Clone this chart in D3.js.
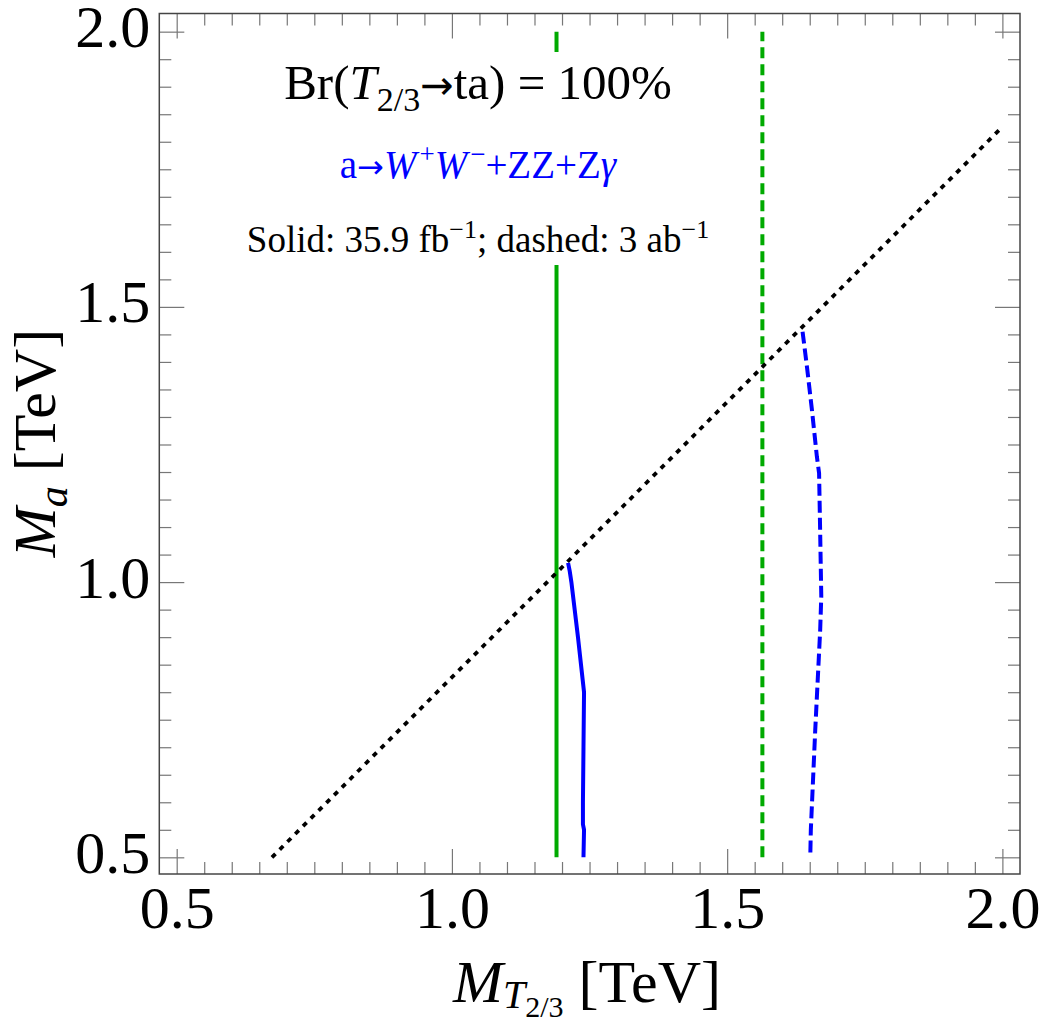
<!DOCTYPE html>
<html>
<head>
<meta charset="utf-8">
<script src="https://cdn.jsdelivr.net/npm/d3@7"></script>
<style>
  body { margin: 0; background: #fff; }
  text { font-family: "Liberation Serif", "DejaVu Serif", serif; }
  .arr { font-family: "DejaVu Sans", sans-serif; }
</style>
</head>
<body>
<svg id="chart" width="1042" height="1025"></svg>
<script>
// axis ticks
const majorTicks = [0.5, 1.0, 1.5, 2.0];
const tickLabels = ["0.5", "1.0", "1.5", "2.0"];

// green: vertical limits (solid 35.9 fb^-1, dashed 3 ab^-1)
const greenSolidX = [1.19, 1.19];
const greenSolidY = [0.5, 2.0];
const greenDashX = [1.564, 1.564];
const greenDashY = [0.5, 2.0];

// blue: a -> WW+ZZ+Zgamma
const blueSolidX = [1.211, 1.214, 1.217, 1.229, 1.240, 1.239, 1.238, 1.238, 1.240, 1.239];
const blueSolidY = [1.035, 1.02, 1.0, 0.9, 0.8, 0.7, 0.6, 0.56, 0.55, 0.5];
const blueDashX = [1.637, 1.645, 1.654, 1.663, 1.667, 1.669, 1.671, 1.669, 1.660, 1.652, 1.651];
const blueDashY = [1.455, 1.391, 1.313, 1.228, 1.198, 1.089, 0.974, 0.913, 0.731, 0.55, 0.5];

// kinematic line M_a = M_T - m_t
const mtX = [0.673, 2.0];
const mtY = [0.5, 1.827];

const svg = d3.select("#chart");
const fLeft = 159.3, fRight = 1020, fTop = 13.5, fBottom = 874;

let x = d3.scaleLinear().domain([0.4684, 2.032]).range([fLeft, fRight]);
let y = d3.scaleLinear().domain([0.4697, 2.033]).range([fBottom, fTop]);

let minorTicks = d3.range(0, 31).map(i => +(0.5 + i * 0.05).toFixed(2)).filter(v => majorTicks.indexOf(v) < 0);

svg.append("clipPath").attr("id", "clip")
  .append("rect").attr("x", fLeft).attr("y", fTop).attr("width", fRight - fLeft).attr("height", fBottom - fTop);

const plot = svg.append("g").attr("clip-path", "url(#clip)");

function plotLine(X, Y, c, lw, dash) {
  let pts = d3.map(X, (d, i) => [d, Y[i]]);
  let line = d3.line().x(d => x(d[0])).y(d => y(d[1]));
  plot.append("path")
    .datum(pts)
    .attr("d", line)
    .attr("fill", "none")
    .style("stroke", c)
    .style("stroke-width", lw + "px")
    .style("stroke-dasharray", dash || null);
}

plotLine(greenSolidX, greenSolidY, "#00aa00", 4);
plotLine(greenDashX, greenDashY, "#00aa00", 4, "11,6");
plotLine(mtX, mtY, "#000", 3.8, "5,6");
plotLine(blueSolidX, blueSolidY, "#0000ff", 4);
plotLine(blueDashX, blueDashY, "#0000ff", 4, "12,5");

// ticks on all four sides
function ticks(axisFn, scale, vals, len, tr, labels) {
  let ax = axisFn(scale).tickValues(vals).tickSize(-len);
  if (labels) ax.tickFormat((d, i) => labels[i]); else ax.tickFormat("");
  let g = svg.append("g").attr("transform", tr).call(ax);
  g.select(".domain").remove();
  g.selectAll(".tick line").attr("stroke", "#777").attr("stroke-width", 1.2);
  return g;
}
ticks(d3.axisBottom, x, minorTicks, 12, `translate(0,${fBottom})`);
ticks(d3.axisTop, x, minorTicks, 12, `translate(0,${fTop})`);
ticks(d3.axisLeft, y, minorTicks, 12, `translate(${fLeft},0)`);
ticks(d3.axisRight, y, minorTicks, 12, `translate(${fRight},0)`);
ticks(d3.axisTop, x, majorTicks, 25, `translate(0,${fTop})`);
ticks(d3.axisRight, y, majorTicks, 25, `translate(${fRight},0)`);

let gb = ticks(d3.axisBottom, x, majorTicks, 25, `translate(0,${fBottom})`, tickLabels);
gb.call(g => g.selectAll("text").attr("y", 11).attr("dy", "0.71em"));
let gl = ticks(d3.axisLeft, y, majorTicks, 25, `translate(${fLeft},0)`, tickLabels);
gl.call(g => g.selectAll("text").attr("x", -9).attr("dy", "0.25em"));
svg.selectAll(".tick text")
  .style("font-family", '"Liberation Serif", serif')
  .style("font-size", "60px")
  .attr("fill", "#000");

// frame
svg.append("rect")
  .attr("x", fLeft).attr("y", fTop)
  .attr("width", fRight - fLeft).attr("height", fBottom - fTop)
  .attr("fill", "none").attr("stroke", "#444").attr("stroke-width", 1.5);

// labels inside the plot, on a white box
const notes = svg.append("g");
const bg = notes.append("rect").attr("fill", "#fff");

let t1 = notes.append("text").attr("x", 478).attr("y", 99)
  .attr("text-anchor", "middle").style("font-size", "49px");
t1.append("tspan").text("Br(");
t1.append("tspan").style("font-style", "italic").text("T");
t1.append("tspan").attr("dy", 12).style("font-size", "34px").text("2/3");
t1.append("tspan").attr("dy", -12).attr("class", "arr").style("font-size", "40px").text("\u2192");
t1.append("tspan").text("ta) = 100%");

let t2 = notes.append("text").attr("x", 478).attr("y", 178)
  .attr("text-anchor", "middle").attr("fill", "#0000ff").style("font-size", "39px");
t2.append("tspan").text("a");
t2.append("tspan").attr("class", "arr").style("font-size", "32px").text("\u2192");
t2.append("tspan").style("font-style", "italic").text("W");
t2.append("tspan").attr("dy", -15).attr("dx", 3).style("font-size", "27px").text("+");
t2.append("tspan").attr("dy", 15).style("font-style", "italic").text("W");
t2.append("tspan").attr("dy", -15).attr("dx", 3).style("font-size", "27px").text("\u2212");
t2.append("tspan").attr("dy", 15).text("+ZZ+Z");
t2.append("tspan").style("font-style", "italic").text("\u03b3");

let t3 = notes.append("text").attr("x", 478).attr("y", 252)
  .attr("text-anchor", "middle").style("font-size", "37px");
t3.append("tspan").text("Solid: 35.9 fb");
t3.append("tspan").attr("dy", -14).style("font-size", "26px").text("\u22121");
t3.append("tspan").attr("dy", 14).text("; dashed: 3 ab");
t3.append("tspan").attr("dy", -14).style("font-size", "26px").text("\u22121");

let bb = { x0: 1e9, x1: -1e9, y0: 1e9, y1: -1e9 };
[t1, t2, t3].forEach(t => {
  let b = t.node().getBBox();
  bb.x0 = Math.min(bb.x0, b.x); bb.x1 = Math.max(bb.x1, b.x + b.width);
  bb.y0 = Math.min(bb.y0, b.y); bb.y1 = Math.max(bb.y1, b.y + b.height);
});
bg.attr("x", bb.x0 - 6).attr("y", bb.y0 - 3)
  .attr("width", bb.x1 - bb.x0 + 12).attr("height", bb.y1 - bb.y0 + 8);

// axis titles
let xt = svg.append("text").attr("x", 587).attr("y", 1002)
  .attr("text-anchor", "middle").style("font-size", "60px");
xt.append("tspan").style("font-style", "italic").text("M");
xt.append("tspan").attr("dy", 6).style("font-size", "40px").style("font-style", "italic").text("T");
xt.append("tspan").attr("dy", 9).style("font-size", "30px").text("2/3");
xt.append("tspan").attr("dy", -15).text(" [TeV]");

let yt = svg.append("text")
  .attr("transform", "translate(55,443) rotate(-90)")
  .attr("text-anchor", "middle").style("font-size", "60px");
yt.append("tspan").style("font-style", "italic").text("M");
yt.append("tspan").attr("dy", 12).style("font-size", "42px").style("font-style", "italic").text("a");
yt.append("tspan").attr("dy", -12).text(" [TeV]");
</script>
</body>
</html>
